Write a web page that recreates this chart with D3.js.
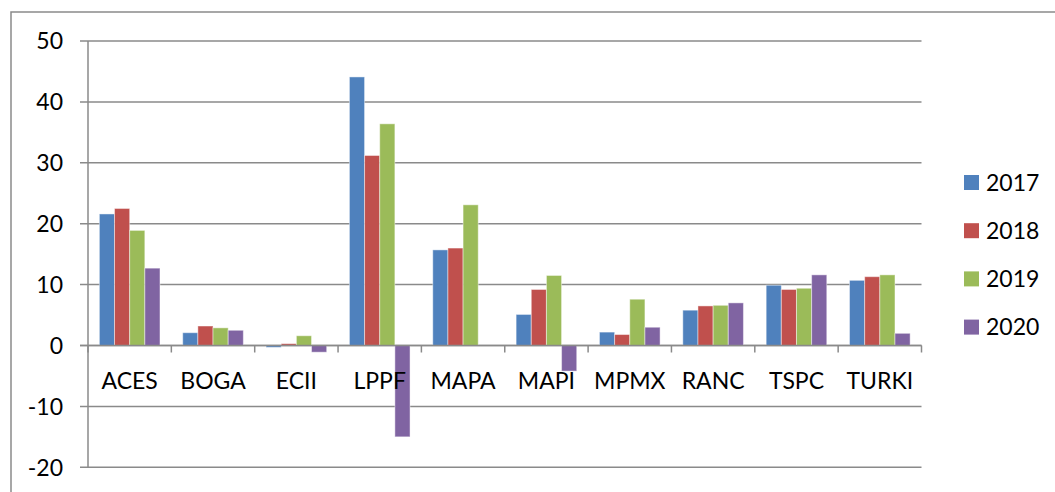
<!DOCTYPE html>
<html><head><meta charset="utf-8">
<script src="https://cdn.jsdelivr.net/npm/d3@7"></script>
<style>body{margin:0;background:#fff}svg{display:block}</style>
</head><body>
<svg id="c" width="1055" height="492"></svg>
<script>
const categories = ["ACES","BOGA","ECII","LPPF","MAPA","MAPI","MPMX","RANC","TSPC","TURKI"];
const seriesNames = ["2017","2018","2019","2020"];
const v2017 = [21.6, 2.1, -0.3, 44.1, 15.7, 5.1, 2.2, 5.8, 9.9, 10.7];
const v2018 = [22.5, 3.2, 0.3, 31.2, 16.0, 9.2, 1.8, 6.5, 9.2, 11.3];
const v2019 = [18.9, 2.9, 1.6, 36.4, 23.1, 11.5, 7.6, 6.6, 9.4, 11.6];
const v2020 = [12.7, 2.5, -1.1, -15.0, 0.0, -4.2, 3.0, 7.0, 11.6, 2.0];
const yTicks = [-20,-10,0,10,20,30,40,50];
const colors = ["#4F81BD","#C0504D","#9BBB59","#8064A2"];
const series = [v2017, v2018, v2019, v2020];

const svg = d3.select("#c");
const font = "Lato, 'Open Sans', sans-serif";
const fs = 23;
const L = 88, R = 921.5, T = 41, B = 467.3;
const grid = "#8a8a8a";

// outer border
svg.append("path").attr("d", "M11,492 V12 H1055").attr("fill","none").attr("stroke","#8a8a8a").attr("stroke-width",1.5);

const y = d3.scaleLinear().domain([-20,50]).range([B,T]);
const x0 = d3.scaleBand().domain(categories).range([L,R]).paddingInner(0).paddingOuter(0);
const x1 = d3.scaleBand().domain(seriesNames).range([0, x0.bandwidth()]).paddingInner(0).paddingOuter(0.75);

// gridlines
svg.append("g").selectAll("line").data(yTicks).join("line")
  .attr("x1", L-8).attr("x2", R).attr("y1", d=>y(d)).attr("y2", d=>y(d))
  .attr("stroke", grid).attr("stroke-width", 1.5);

// y labels
svg.append("g").selectAll("text").data(yTicks).join("text")
  .attr("x", 63).attr("y", d=>y(d)).attr("dy","0.36em").attr("text-anchor","end")
  .attr("font-family", font).attr("font-size", fs).attr("fill","#000").text(d=>d);

// bars
const g = svg.append("g");
series.forEach((vals, si) => {
  g.selectAll(null).data(vals).join("rect")
    .attr("x", (d,i)=>x0(categories[i]) + x1(seriesNames[si]))
    .attr("width", x1.bandwidth())
    .attr("y", d=>y(Math.max(0,d)))
    .attr("height", d=>Math.abs(y(d)-y(0)))
    .attr("fill", colors[si])
    .attr("stroke","rgba(255,255,255,0.45)").attr("stroke-width",1);
});

// y axis line
svg.append("line").attr("x1",L).attr("x2",L).attr("y1",T).attr("y2",B).attr("stroke",grid).attr("stroke-width",1.5);
// x axis at zero
svg.append("line").attr("x1",L-8).attr("x2",R).attr("y1",y(0)).attr("y2",y(0)).attr("stroke",grid).attr("stroke-width",1.5);
// category ticks
const bounds = categories.map(c=>x0(c)).concat([R]);
svg.append("g").selectAll("line").data(bounds).join("line")
  .attr("x1",d=>d).attr("x2",d=>d).attr("y1",y(0)).attr("y2",y(0)+7)
  .attr("stroke",grid).attr("stroke-width",1.5);

// category labels
svg.append("g").selectAll("text").data(categories).join("text")
  .attr("x", d=>x0(d)+x0.bandwidth()/2).attr("y", 389).attr("text-anchor","middle")
  .attr("font-family", font).attr("font-size", fs).attr("fill","#000").text(d=>d);

// legend
const leg = svg.append("g");
seriesNames.forEach((s,i)=>{
  const cy = 182.5 + i*48.2;
  leg.append("rect").attr("x",964).attr("y",cy-7.5).attr("width",15).attr("height",15).attr("fill",colors[i]);
  leg.append("text").attr("x",986).attr("y",cy).attr("dy","0.36em")
    .attr("font-family", font).attr("font-size", fs).attr("fill","#000").text(s);
});
</script>
</body></html>
